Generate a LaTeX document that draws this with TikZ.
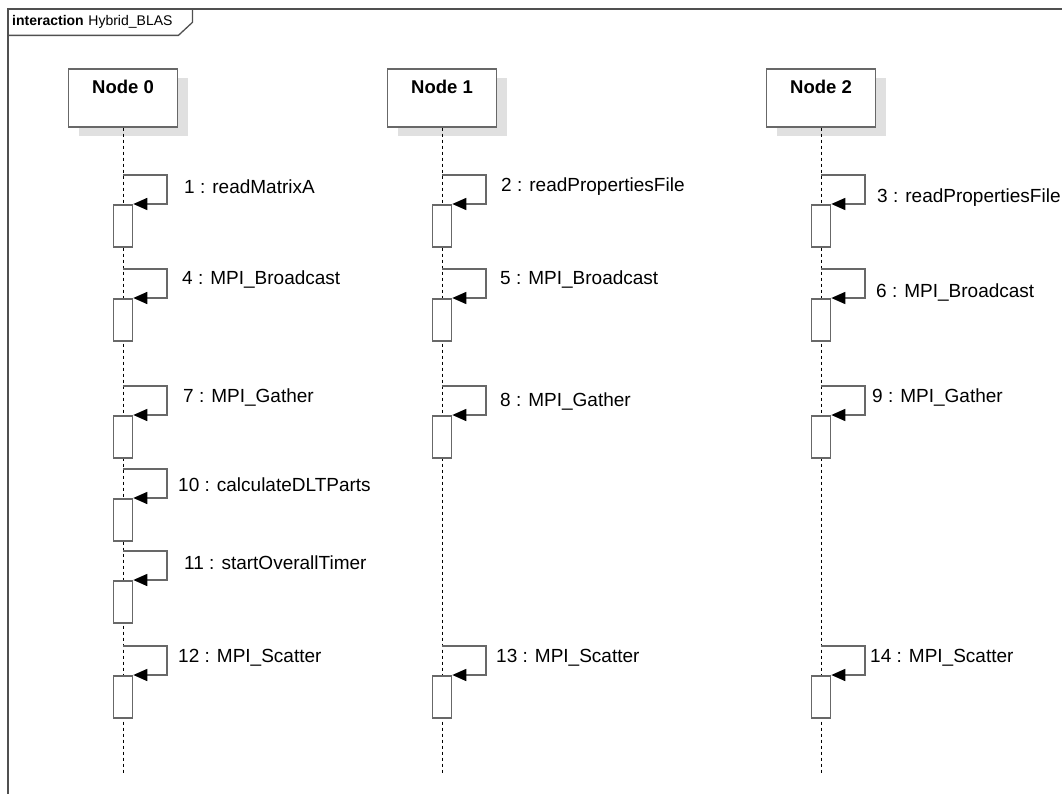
\documentclass[tikz,border=0pt]{standalone}
\usepackage{fontspec}
\setmainfont{Liberation Sans}
\usetikzlibrary{arrows.meta,positioning,shadows}

\definecolor{linegray}{HTML}{686868}
\definecolor{framegray}{HTML}{505050}

\begin{document}
\begin{tikzpicture}[x=1pt,y=-1pt,
    lifehead/.style={draw=linegray,line width=1.6pt,fill=white,
      minimum width=109pt,inner ysep=8pt,text height=17pt,text depth=25pt,
      font=\fontsize{18.5}{20}\selectfont\bfseries,
      drop shadow={shadow xshift=10pt,shadow yshift=-9pt,fill=black!12,opacity=1}},
    lifeline/.style={line width=1pt,dash pattern=on 3pt off 3pt},
    act/.style={draw=linegray,line width=1.6pt,fill=white,anchor=north,
      minimum width=19pt,minimum height=42pt,inner sep=0pt},
    msg/.style={draw=linegray,line width=1.6pt,
      -{Triangle[length=14pt,width=12pt,color=black]}},
    msglabel/.style={anchor=west,inner sep=0pt,font=\fontsize{19}{21}\selectfont}]
  \useasboundingbox (0,0) rectangle (1062,794);

  % frame
  \draw[framegray,line width=1.3pt] (8,794) -- (8,9) -- (1062,9);
  \node[anchor=north west,text width=176pt,inner xsep=4pt,minimum height=26pt,
        font=\fontsize{14}{15}\selectfont] (title) at (8,9)
        {\textbf{interaction} Hybrid\_BLAS};
  \draw[framegray,line width=1.3pt] (title.south west)
    -- ([xshift=-14pt]title.south east) -- ([yshift=13pt]title.south east)
    -- (title.north east);

  % lifelines
  \node[lifehead,anchor=north] (n0) at (123,68) {Node 0};
  \node[lifehead,anchor=north] (n1) at (442,68) {Node 1};
  \node[lifehead,anchor=north] (n2) at (821,68) {Node 2};
  \foreach \n in {n0,n1,n2} {
    \coordinate (\n end) at (\n |- 0,775);
    \draw[lifeline] (\n.south) -- (\n end);
  }

  % self messages
  \foreach \n/\i/\top/\lx/\ly/\txt in {
      n0/1/175/184/187/readMatrixA,
      n1/2/175/501/187/readPropertiesFile,
      n2/3/175/877/198/readPropertiesFile,
      n0/4/269/182/280/MPI\_Broadcast,
      n1/5/269/500/280/MPI\_Broadcast,
      n2/6/269/876/293/MPI\_Broadcast,
      n0/7/386/183/398/MPI\_Gather,
      n1/8/386/500/402/MPI\_Gather,
      n2/9/386/872/398/MPI\_Gather,
      n0/10/469/178/485/calculateDLTParts,
      n0/11/551/184/563/startOverallTimer,
      n0/12/646/178/658/MPI\_Scatter,
      n1/13/646/496/658/MPI\_Scatter,
      n2/14/646/870/658/MPI\_Scatter} {
    \coordinate (s\i) at (\n |- 0,\top);
    \node[act] (a\i) at ([yshift=-29pt]s\i) {};
    \draw[msg] (s\i) -- ++(44,0) |- (a\i.north east);
    \node[msglabel] (m\i) at (\lx,\ly) {\i{} : \txt};
  }
\end{tikzpicture}
\end{document}
